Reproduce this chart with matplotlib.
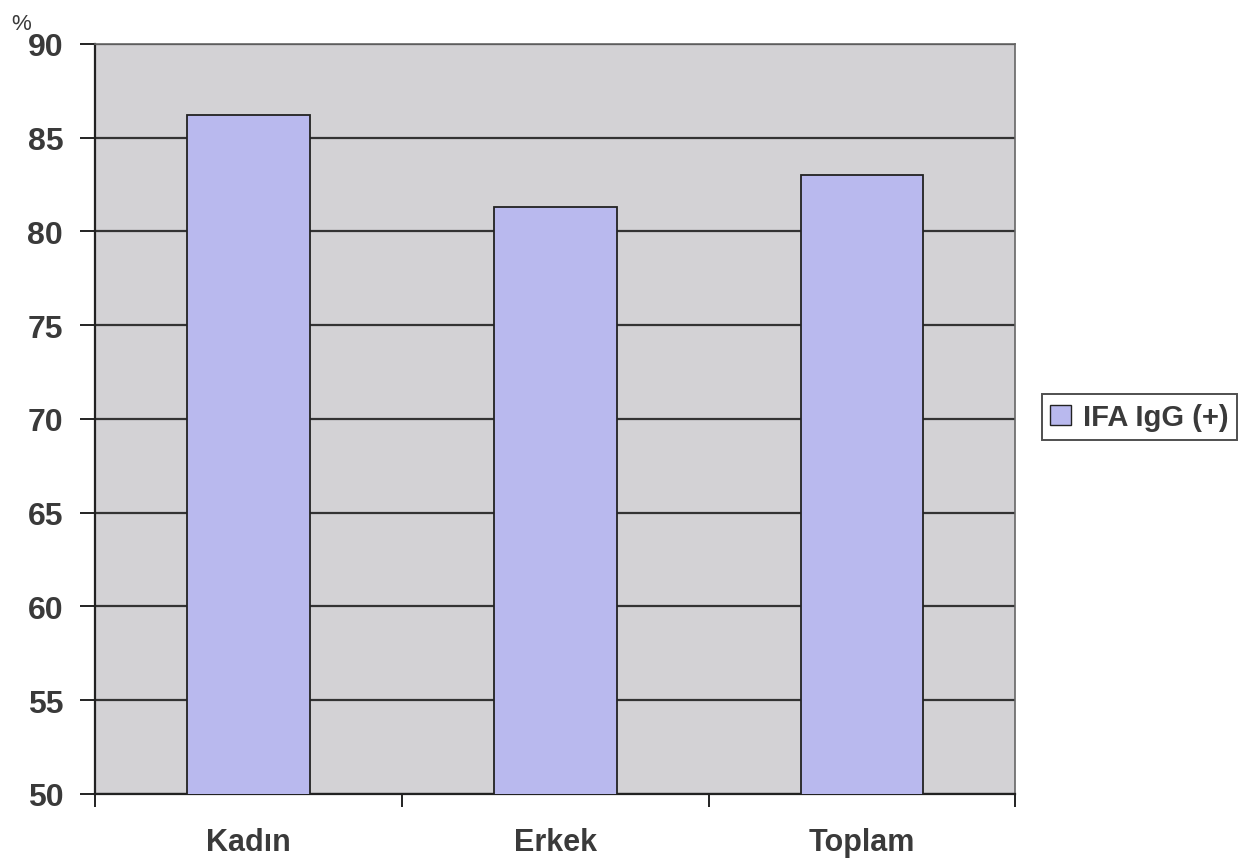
import matplotlib.pyplot as plt
from matplotlib.patches import Patch
from matplotlib.ticker import FixedLocator, NullFormatter

plt.rcParams['font.family'] = ['Liberation Sans', 'DejaVu Sans']

# IFA IgG pozitiflik oranları (%)
categories = ['Kadın', 'Erkek', 'Toplam']
ifa_igg = [86.2, 81.3, 83.0]
series_name = 'IFA IgG (+)'
y_ticks = [50, 55, 60, 65, 70, 75, 80, 85, 90]

text_color = '#3a3a3a'
bar_color = '#b9b9ee'
plot_bg = '#d3d2d5'

fig = plt.figure(figsize=(12.52, 8.62), dpi=100)
ax = fig.add_axes([0.076, 0.078, 0.735, 0.870])
ax.set_facecolor(plot_bg)

x = range(len(categories))
ax.bar(x, ifa_igg, width=0.4, bottom=0, color=bar_color,
       edgecolor='#222222', linewidth=1.3, zorder=3)

ax.set_xlim(-0.5, len(categories) - 0.5)
ax.set_ylim(y_ticks[0], y_ticks[-1])
ax.set_yticks(y_ticks)
ax.yaxis.grid(True, color='#333333', linewidth=1.6, zorder=1)
ax.set_axisbelow(True)

# kategori etiketleri ortada, tik işaretleri sınırlarda
ax.set_xticks(list(x))
ax.set_xticklabels(categories, fontsize=22, fontweight='bold', color=text_color)
ax.tick_params(axis='x', which='major', length=0, pad=24)
ax.xaxis.set_minor_locator(FixedLocator([-0.5, 0.5, 1.5, 2.5]))
ax.xaxis.set_minor_formatter(NullFormatter())
ax.tick_params(axis='x', which='minor', length=9, width=1.4, color='#222222')

ax.tick_params(axis='y', length=11, width=1.4, color='#222222', pad=12,
               labelsize=23, labelcolor=text_color)
for lbl in ax.get_yticklabels():
    lbl.set_fontweight('bold')

for side in ['left', 'bottom']:
    ax.spines[side].set_color('#222222')
    ax.spines[side].set_linewidth(1.6)
for side in ['top', 'right']:
    ax.spines[side].set_color('#666666')
    ax.spines[side].set_linewidth(1.2)

fig.text(0.009, 0.972, '%', fontsize=16, color=text_color, ha='left', va='center')

handle = Patch(facecolor=bar_color, edgecolor='#222222', linewidth=1.0)
leg = fig.legend([handle], [series_name], loc='center',
                 bbox_to_anchor=(0.910, 0.515), frameon=True, fancybox=False,
                 prop={'size': 21, 'weight': 'bold'}, handlelength=0.7,
                 handleheight=0.7, handletextpad=0.4, borderpad=0.3,
                 borderaxespad=0)
leg.get_frame().set_edgecolor('#222222')
leg.get_frame().set_linewidth(1.4)
for t in leg.get_texts():
    t.set_color(text_color)

fig.savefig('out.png', dpi=100, facecolor='white')
